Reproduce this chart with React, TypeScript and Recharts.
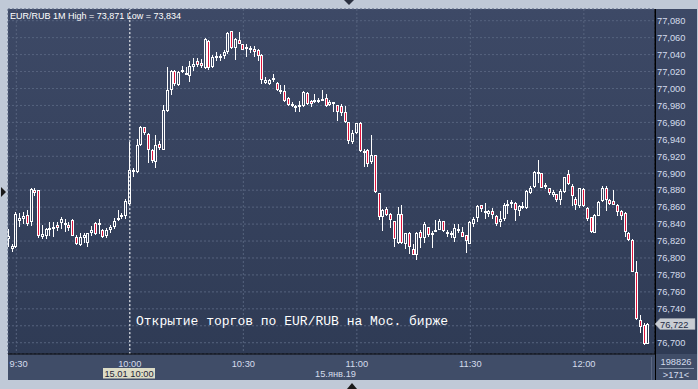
import React from 'react';
import { ComposedChart, Bar, XAxis, YAxis, CartesianGrid, ReferenceLine } from 'recharts';

// one candle per minute, index 0 = 9:28
const opens = [
  76.822, 76.811, 76.813, 76.844, 76.846, 76.851, 76.843, 76.880, 76.880, 76.825,
  76.826, 76.833, 76.837, 76.839, 76.841, 76.841, 76.839, 76.845, 76.825, 76.815,
  76.823, 76.818, 76.830, 76.841, 76.840, 76.833, 76.826, 76.833, 76.837, 76.845,
  76.850, 76.850, 76.864, 76.902, 76.901, 76.933, 76.954, 76.946, 76.927, 76.913,
  76.935, 76.928, 76.973, 76.998, 77.021, 77.004, 77.022, 77.018, 77.015, 77.025,
  77.033, 77.030, 77.024, 77.056, 77.025, 77.037, 77.037, 77.038, 77.043, 77.068,
  77.048, 77.057, 77.052, 77.047, 77.047, 77.047, 77.045, 77.040, 77.006, 77.005,
  77.010, 77.007, 76.998, 76.997, 76.989, 76.982, 76.979, 76.978, 76.979, 76.995,
  76.985, 76.984, 76.986, 76.987, 76.989, 76.981, 76.983, 76.981, 76.979, 76.972,
  76.961, 76.937, 76.948, 76.959, 76.924, 76.928, 76.913, 76.921, 76.877, 76.848,
  76.858, 76.852, 76.844, 76.818, 76.852, 76.817, 76.829, 76.811, 76.803, 76.831,
  76.823, 76.837, 76.827, 76.832, 76.833, 76.844, 76.831, 76.830, 76.823, 76.834,
  76.831, 76.827, 76.817, 76.840, 76.847, 76.862, 76.856, 76.852, 76.856, 76.850,
  76.842, 76.846, 76.863, 76.865, 76.865, 76.855, 76.860, 76.859, 76.877, 76.884,
  76.899, 76.900, 76.884, 76.882, 76.874, 76.875, 76.869, 76.878, 76.899, 76.885,
  76.870, 76.861, 76.881, 76.859, 76.848, 76.829, 76.850, 76.867, 76.883, 76.869,
  76.867, 76.862, 76.856, 76.853, 76.829, 76.821, 76.783, 76.727, 76.721, 76.699,
];
const highs = [
  76.834, 76.816, 76.854, 76.853, 76.854, 76.857, 76.883, 76.883, 76.880, 76.839,
  76.835, 76.843, 76.842, 76.843, 76.848, 76.846, 76.842, 76.846, 76.827, 76.829,
  76.830, 76.830, 76.838, 76.842, 76.846, 76.834, 76.835, 76.839, 76.847, 76.857,
  76.853, 76.870, 76.937, 76.906, 76.940, 76.956, 76.955, 76.947, 76.929, 76.945,
  76.938, 76.980, 77.025, 77.022, 77.022, 77.021, 77.026, 77.025, 77.032, 77.036,
  77.036, 77.035, 77.059, 77.057, 77.039, 77.043, 77.041, 77.045, 77.067, 77.068,
  77.059, 77.067, 77.053, 77.052, 77.050, 77.050, 77.047, 77.041, 77.013, 77.011,
  77.017, 77.008, 77.004, 77.004, 76.990, 76.984, 76.980, 76.985, 76.997, 76.996,
  76.987, 76.993, 76.989, 76.998, 76.993, 76.986, 76.984, 76.981, 76.982, 76.979,
  76.961, 76.951, 76.959, 76.961, 76.929, 76.929, 76.945, 76.922, 76.877, 76.858,
  76.860, 76.853, 76.844, 76.860, 76.862, 76.829, 76.831, 76.817, 76.831, 76.833,
  76.842, 76.837, 76.832, 76.845, 76.846, 76.844, 76.833, 76.832, 76.840, 76.840,
  76.836, 76.827, 76.844, 76.848, 76.862, 76.862, 76.865, 76.857, 76.859, 76.851,
  76.856, 76.865, 76.869, 76.868, 76.866, 76.862, 76.866, 76.880, 76.885, 76.903,
  76.916, 76.900, 76.888, 76.883, 76.880, 76.876, 76.881, 76.896, 76.904, 76.887,
  76.872, 76.883, 76.882, 76.860, 76.848, 76.852, 76.867, 76.885, 76.885, 76.870,
  76.880, 76.864, 76.857, 76.854, 76.831, 76.822, 76.797, 76.733, 76.723, 76.723,
];
const lows = [
  76.813, 76.807, 76.812, 76.837, 76.840, 76.838, 76.838, 76.873, 76.824, 76.822,
  76.822, 76.826, 76.825, 76.832, 76.834, 76.831, 76.832, 76.826, 76.815, 76.814,
  76.818, 76.813, 76.826, 76.827, 76.828, 76.824, 76.823, 76.830, 76.834, 76.844,
  76.846, 76.846, 76.862, 76.896, 76.900, 76.932, 76.945, 76.912, 76.912, 76.906,
  76.928, 76.927, 76.972, 76.992, 77.003, 77.003, 77.018, 77.016, 77.008, 77.021,
  77.025, 77.024, 77.023, 77.022, 77.024, 77.032, 77.032, 77.035, 77.041, 77.047,
  77.034, 77.052, 77.045, 77.037, 77.042, 77.037, 77.033, 77.005, 77.005, 77.004,
  77.008, 76.997, 76.993, 76.984, 76.979, 76.978, 76.972, 76.972, 76.978, 76.981,
  76.978, 76.983, 76.983, 76.986, 76.978, 76.979, 76.972, 76.962, 76.967, 76.959,
  76.935, 76.935, 76.946, 76.925, 76.907, 76.907, 76.911, 76.877, 76.845, 76.832,
  76.850, 76.835, 76.813, 76.817, 76.817, 76.811, 76.805, 76.803, 76.798, 76.812,
  76.818, 76.825, 76.812, 76.831, 76.833, 76.831, 76.825, 76.823, 76.819, 76.829,
  76.825, 76.806, 76.816, 76.836, 76.842, 76.854, 76.846, 76.848, 76.846, 76.838,
  76.836, 76.844, 76.852, 76.859, 76.844, 76.850, 76.858, 76.858, 76.876, 76.883,
  76.888, 76.882, 76.881, 76.874, 76.872, 76.866, 76.862, 76.877, 76.886, 76.861,
  76.857, 76.859, 76.860, 76.844, 76.829, 76.829, 76.849, 76.866, 76.855, 76.862,
  76.862, 76.849, 76.845, 76.825, 76.820, 76.783, 76.727, 76.711, 76.697, 76.699,
];
const closes = [
  76.826, 76.814, 76.852, 76.847, 76.850, 76.840, 76.881, 76.877, 76.826, 76.828,
  76.834, 76.835, 76.834, 76.835, 76.846, 76.840, 76.835, 76.826, 76.817, 76.825,
  76.827, 76.829, 76.833, 76.828, 76.841, 76.825, 76.833, 76.836, 76.844, 76.847,
  76.851, 76.867, 76.904, 76.904, 76.933, 76.955, 76.947, 76.927, 76.915, 76.933,
  76.930, 76.975, 76.998, 77.021, 77.005, 77.020, 77.019, 77.017, 77.026, 77.029,
  77.028, 77.027, 77.058, 77.024, 77.037, 77.038, 77.038, 77.043, 77.066, 77.048,
  77.058, 77.053, 77.046, 77.049, 77.048, 77.043, 77.038, 77.010, 77.010, 77.010,
  77.012, 76.998, 76.996, 76.985, 76.981, 76.979, 76.978, 76.980, 76.996, 76.982,
  76.982, 76.986, 76.987, 76.988, 76.979, 76.984, 76.984, 76.972, 76.971, 76.961,
  76.938, 76.947, 76.959, 76.926, 76.926, 76.911, 76.922, 76.878, 76.848, 76.857,
  76.851, 76.845, 76.822, 76.852, 76.818, 76.829, 76.813, 76.804, 76.829, 76.823,
  76.840, 76.827, 76.830, 76.833, 76.844, 76.832, 76.829, 76.827, 76.835, 76.833,
  76.825, 76.820, 76.842, 76.846, 76.861, 76.858, 76.853, 76.856, 76.851, 76.840,
  76.846, 76.863, 76.864, 76.866, 76.857, 76.861, 76.861, 76.879, 76.883, 76.901,
  76.901, 76.883, 76.886, 76.877, 76.878, 76.869, 76.879, 76.896, 76.887, 76.873,
  76.862, 76.882, 76.861, 76.846, 76.831, 76.851, 76.866, 76.883, 76.869, 76.864,
  76.863, 76.854, 76.850, 76.831, 76.821, 76.783, 76.728, 76.719, 76.699, 76.722,
];

const xTickIndex = [2, 32, 62, 92, 122, 152];
const xTickLabels = ['9:30', '10:00', '10:30', '11:00', '11:30', '12:00'];
const yTicks = [
  76.70, 76.72, 76.74, 76.76, 76.78, 76.80, 76.82, 76.84, 76.86, 76.88,
  76.90, 76.92, 76.94, 76.96, 76.98, 77.00, 77.02, 77.04, 77.06, 77.08,
];
const crossIndex = 32;
const lastPrice = 76.722;
const titleText = 'EUR/RUB 1M High = 73,871 Low = 73,834';
const noteText = 'Открытие торгов по EUR/RUB на Мос. бирже';
const crossLabel = '15.01 10:00';
const dateLabel = '15.янв.19';
const volumeText = '198826';
const barsText = '>171<';

const data = opens.map((o, i) => ({
  i,
  o,
  h: highs[i],
  l: lows[i],
  c: closes[i],
  range: [lows[i], highs[i]],
}));

const RED = '#e0143c';
const FONT = '"Liberation Sans", Arial, sans-serif';
const LABEL = '#d4dcec';

function Candle(props: any) {
  const { x, y, width, height, payload } = props;
  if (!payload) return null;
  const { o, h, l, c } = payload;
  const span = h - l;
  const ppu = span > 0 ? height / span : 0;
  const cx = Math.floor(x + width / 2);
  const yHigh = Math.round(y);
  const yLow = Math.round(y + height);
  let top = Math.round(y + (h - Math.max(o, c)) * ppu);
  let bot = Math.round(y + (h - Math.min(o, c)) * ppu);
  if (bot - top < 2) bot = top + 2;
  const down = c < o;
  return (
    <g>
      {yHigh < top && <line x1={cx + 0.5} x2={cx + 0.5} y1={yHigh} y2={top} stroke="#fff" strokeWidth={1} />}
      {yLow > bot && <line x1={cx + 0.5} x2={cx + 0.5} y1={bot} y2={yLow} stroke="#fff" strokeWidth={1} />}
      <rect x={cx - 0.5} y={top + 0.5} width={2} height={bot - top - 1} fill={down ? RED : 'none'} stroke="#fff" strokeWidth={1} />
    </g>
  );
}

function XTick(props: any) {
  const { x, y, payload } = props;
  const idx = xTickIndex.indexOf(payload.value);
  const label = idx >= 0 ? xTickLabels[idx] : '';
  const first = idx === 0;
  return (
    <text x={first ? 9.5 : x} y={y} dy="0.71em" textAnchor={first ? 'start' : 'middle'} fill={LABEL} fontSize={9.3} fontFamily={FONT}>
      {label}
    </text>
  );
}

function YTick(props: any) {
  const { x, y, payload } = props;
  const v = payload.value as number;
  // the tick hidden behind the last-price marker is not drawn
  if (Math.abs(v - lastPrice) < 0.01) return null;
  return (
    <text x={x} y={y} dy="0.355em" textAnchor="start" fill={LABEL} fontSize={9.3} fontFamily={FONT}>
      {v.toFixed(3).replace('.', ',')}
    </text>
  );
}

export default function App() {
  return (
    <div style={{ position: 'absolute', left: 0, top: 0, width: 698, height: 389, background: '#c0c9d7', overflow: 'hidden' }}>
      <div style={{ position: 'absolute', left: 8, top: 9, width: 647, height: 345, background: 'linear-gradient(#3d4966, #2f3b55)' }} />
      <div style={{ position: 'absolute', left: 655, top: 9, width: 42, height: 345, background: 'linear-gradient(#3d4966, #2f3b55)' }} />
      <div style={{ position: 'absolute', left: 8, top: 354, width: 689, height: 26, background: '#404d68' }} />
      <div style={{ position: 'absolute', left: 0, top: 0 }}>
        <ComposedChart width={698} height={389} data={data} margin={{ top: 9, left: 8, right: 0, bottom: 9 }}>
          <CartesianGrid stroke="#56637e" strokeDasharray="2 2" vertical={true} horizontal={true} />
          <XAxis
            dataKey="i"
            type="number"
            domain={[-0.2, 170.8]}
            ticks={xTickIndex}
            interval={0}
            height={26}
            tickLine={false}
            tickSize={0}
            tickMargin={6}
            axisLine={{ stroke: '#000' }}
            tick={<XTick />}
            allowDataOverflow
          />
          <YAxis
            orientation="right"
            width={43}
            domain={[76.6867, 77.0938]}
            ticks={yTicks}
            interval={0}
            allowDataOverflow
            tickLine={false}
            tickSize={0}
            tickMargin={2}
            axisLine={{ stroke: '#000' }}
            tick={<YTick />}
          />
          <ReferenceLine x={crossIndex} stroke="#ffffff" strokeDasharray="2 2" />
          <Bar dataKey="range" barSize={3} shape={<Candle />} isAnimationActive={false} />
        </ComposedChart>
      </div>
      <svg width={698} height={389} style={{ position: 'absolute', left: 0, top: 0, pointerEvents: 'none' }}>
        <line x1={655.5} x2={655.5} y1={9} y2={380} stroke="#000" />
        <line x1={651.5} x2={651.5} y1={357} y2={380} stroke="#5c6883" />
        <line x1={659} x2={694} y1={368.5} y2={368.5} stroke="#8a97ad" />
        <text x={676} y={365} textAnchor="middle" fill={LABEL} fontSize={9.3} fontFamily={FONT}>{volumeText}</text>
        <text x={676} y={378} textAnchor="middle" fill={LABEL} fontSize={9.3} fontFamily={FONT}>{barsText}</text>
        <polygon points="655,324 660,318.5 695,318.5 695,329.5 660,329.5" fill="#c9cdd3" stroke="#9aa0aa" strokeWidth={0.5} />
        <text x={660} y={327.5} fill="#1e2a44" fontSize={9.3} fontFamily={FONT}>{lastPrice.toFixed(3).replace('.', ',')}</text>
        <rect x={103} y={368} width={52} height={10.5} fill="#dcdcc6" />
        <text x={129} y={377} textAnchor="middle" fill="#1e2436" fontSize={9.3} fontFamily={FONT}>{crossLabel}</text>
        <text x={356} y={376.5} textAnchor="end" fill={LABEL} fontSize={9.3} fontFamily={FONT}>{dateLabel}</text>
        <text x={10} y={18.5} fill="#ffffff" fontSize={9} fontFamily={FONT}>{titleText}</text>
        <text x={136} y={324.5} fill="#ffffff" fontSize={13} fontFamily={'"Liberation Mono", "DejaVu Sans Mono", monospace'}>{noteText}</text>
        <polygon points="1,187 6,192 1,197" fill="#1a1a1a" />
        <polygon points="344,0 354,0 349,5" fill="#2a3040" />
        <polygon points="347,389 357,389 352,383" fill="#1a1a1a" />
      </svg>
    </div>
  );
}
